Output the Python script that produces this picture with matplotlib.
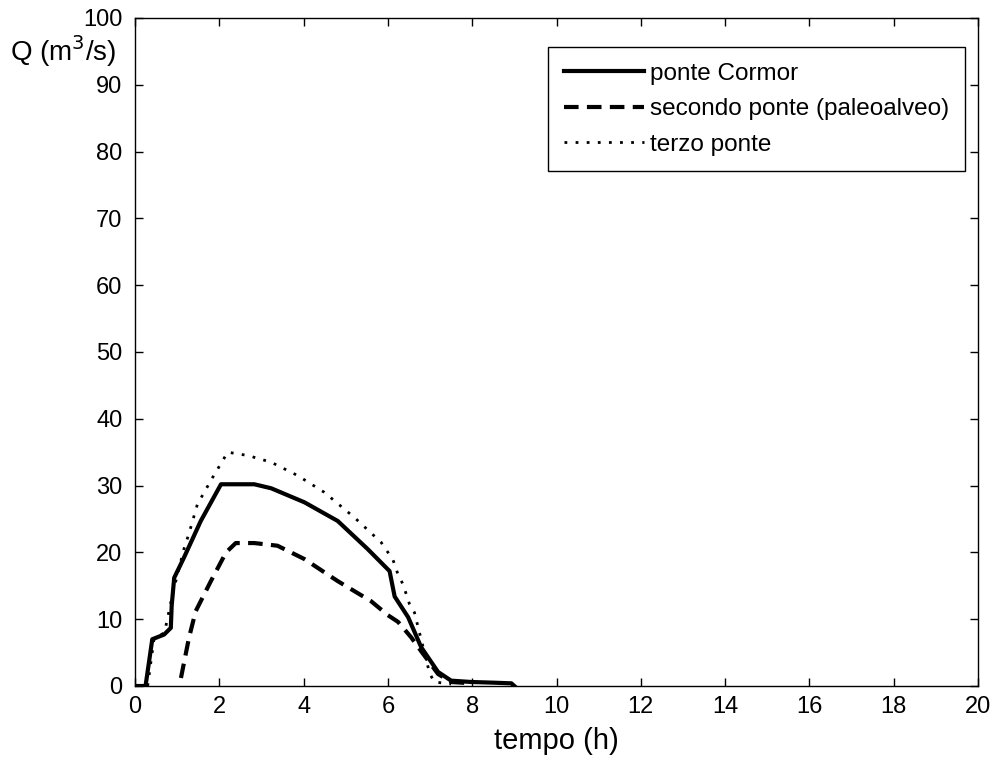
import matplotlib
matplotlib.use("Agg")
import matplotlib.pyplot as plt

plt.rcParams['font.family'] = ['Liberation Sans', 'DejaVu Sans']

# --- data ---
t_cormor = [0.0, 0.25, 0.41, 0.69, 0.85, 0.87, 0.93, 1.16, 1.56, 2.04, 2.83, 3.23,
            4.02, 4.81, 5.52, 6.04, 6.16, 6.48, 6.79, 7.19, 7.5, 7.98, 8.5, 8.93, 9.0]
q_cormor = [0.0, 0.0, 7.0, 7.7, 8.7, 12.0, 16.2, 19.2, 24.7, 30.2, 30.2, 29.6,
            27.5, 24.7, 20.5, 17.2, 13.4, 10.3, 5.8, 2.1, 0.8, 0.6, 0.5, 0.4, 0.0]

t_secondo = [1.09, 1.28, 1.44, 1.8, 2.16, 2.39, 2.83, 3.38, 4.02, 4.81, 5.6,
             6.0, 6.24, 6.55, 6.79, 7.19, 7.5, 8.0]
q_secondo = [1.2, 7.2, 11.2, 15.7, 20.0, 21.4, 21.4, 21.0, 19.0, 15.7, 12.7,
             10.6, 9.6, 7.3, 5.2, 1.8, 0.6, 0.4]

t_terzo = [0.3, 0.45, 0.7, 0.9, 1.16, 1.28, 1.48, 1.84, 2.2, 2.68, 3.23, 3.86,
           4.49, 5.21, 5.84, 6.12, 6.24, 6.36, 6.51, 6.63, 6.99, 7.1, 7.5]
q_terzo = [0.0, 7.0, 8.0, 14.0, 20.5, 22.8, 27.2, 31.2, 35.0, 34.5, 33.5, 31.5,
           29.0, 25.2, 21.5, 18.9, 16.7, 15.2, 12.3, 11.0, 1.9, 0.6, 0.3]

labels = ["ponte Cormor", "secondo ponte (paleoalveo)", "terzo ponte"]

W, H = 995, 765
fig = plt.figure(figsize=(W / 100, H / 100), dpi=100)
ax = fig.add_axes([135 / W, 1 - 686 / H, (978 - 135) / W, (686 - 18) / H])

ax.plot(t_cormor, q_cormor, color="black", lw=3, ls="-", label=labels[0])
ax.plot(t_secondo, q_secondo, color="black", lw=3, ls=(0, (3.5, 2)), label=labels[1])
ax.plot(t_terzo, q_terzo, color="black", lw=2, ls=(0, (1, 3)), label=labels[2])

ax.set_xlim(0, 20)
ax.set_ylim(0, 100)
ax.set_xticks(range(0, 21, 2))
ax.set_yticks(range(0, 101, 10))
ax.tick_params(axis="y", pad=9)
ax.tick_params(axis="x", pad=7)
ax.tick_params(direction="in", top=True, right=True, length=6, width=1,
               labelsize=17)
for s in ax.spines.values():
    s.set_linewidth(1)

ax.set_xlabel("tempo (h)", fontsize=21, labelpad=7)
# y label sits horizontally in the top-left corner, as in the original
fig.text(10 / W, 1 - 51 / H, "Q (m$^3$/s)", fontsize=20, va="center", ha="left")

leg = ax.legend(loc="upper right", bbox_to_anchor=(965 / W, 1 - 47 / H),
                bbox_transform=fig.transFigure, borderaxespad=0, fontsize=17.5,
                fancybox=False, framealpha=1, edgecolor="black",
                handlelength=3.3, handletextpad=0.25, labelspacing=0.55,
                borderpad=0.65)
leg.get_frame().set_linewidth(1)

fig.savefig("out.png", dpi=100)
